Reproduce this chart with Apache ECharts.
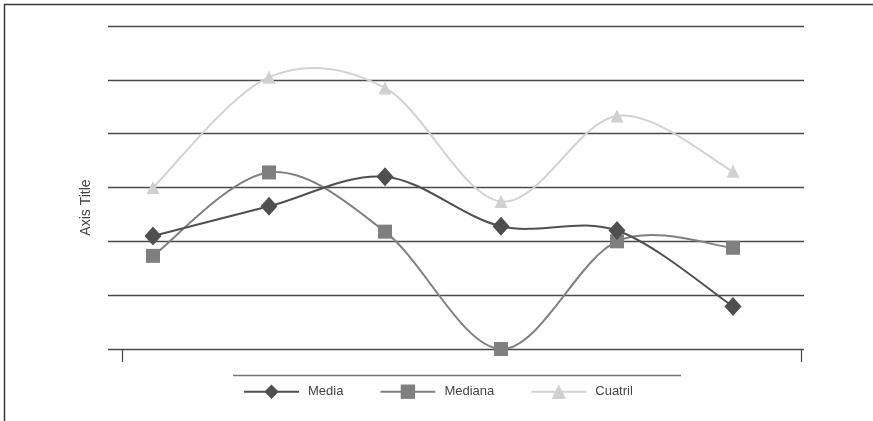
<!DOCTYPE html>
<html>
<head>
<meta charset="utf-8">
<script src="https://cdn.jsdelivr.net/npm/echarts@6/dist/echarts.min.js"></script>
<style>
html,body{margin:0;padding:0;background:#fff;}
#chart{width:873px;height:421px;}
</style>
</head>
<body>
<div id="chart"></div>
<script>
const categories = ['1', '2', '3', '4', '5', '6'];
const media = [2.1, 2.65, 3.2, 2.28, 2.2, 0.79];
const mediana = [1.73, 3.28, 2.18, 0, 2.0, 1.88];
const cuatril = [3.0, 5.05, 4.85, 2.74, 4.33, 3.3];
const seriesNames = ['Media', 'Mediana', 'Cuatril'];
const yMin = 0, yMax = 6, yStep = 1;

const colors = {media: '#4f4f4f', mediana: '#808080', cuatril: '#d2d2d2'};
const chart = echarts.init(document.getElementById('chart'), null, {renderer: 'canvas'});
const font = "'Liberation Sans', Arial, sans-serif";

// Excel-like smoothed curve (cardinal/Catmull-Rom bezier) through the library's coordinate mapping
function curveSeries(name, values, color, z) {
  return {
    name: name + ' curve', type: 'custom', coordinateSystem: 'cartesian2d',
    xAxisIndex: 1, yAxisIndex: 1, z: z, silent: true,
    data: values.map((v, i) => [i, v]),
    renderItem: function (params, api) {
      const i = params.dataIndex;
      const n = values.length;
      if (i >= n - 1) return null;
      const pt = j => api.coord([Math.max(0, Math.min(n - 1, j)), values[Math.max(0, Math.min(n - 1, j))]]);
      const p0 = pt(i - 1), p1 = pt(i), p2 = pt(i + 1), p3 = pt(i + 2);
      const t = 1 / 6;
      return {
        type: 'bezierCurve',
        shape: {
          x1: p1[0], y1: p1[1], x2: p2[0], y2: p2[1],
          cpx1: p1[0] + (p2[0] - p0[0]) * t, cpy1: p1[1] + (p2[1] - p0[1]) * t,
          cpx2: p2[0] - (p3[0] - p1[0]) * t, cpy2: p2[1] - (p3[1] - p1[1]) * t
        },
        style: {stroke: color, lineWidth: 2, fill: null}
      };
    }
  };
}

const option = {
  animation: false,
  backgroundColor: '#ffffff',
  grid: [
    {left: 108, right: 69, top: 26, bottom: 72},   // gridlines
    {left: 95, right: 82, top: 26, bottom: 72},    // series
    {left: 122, right: 72, top: 66, bottom: 72}    // ticks + axis title
  ],
  xAxis: [
    {gridIndex: 0, type: 'category', data: [''], show: false},
    {gridIndex: 1, type: 'category', data: categories, boundaryGap: true, show: false},
    {gridIndex: 2, type: 'category', data: [''], boundaryGap: true,
      axisLine: {show: false}, axisLabel: {show: false},
      axisTick: {show: true, length: 13, lineStyle: {color: '#444', width: 1.2}}}
  ],
  yAxis: [
    {gridIndex: 0, type: 'value', min: yMin, max: yMax, interval: yStep,
      axisLine: {show: false}, axisTick: {show: false}, axisLabel: {show: false},
      splitLine: {show: true, lineStyle: {color: '#4a4a4a', width: 1.3}}},
    {gridIndex: 1, type: 'value', min: yMin, max: yMax, interval: yStep, show: false, splitLine: {show: false}},
    {gridIndex: 2, type: 'value', min: yMin, max: yMax, interval: yStep,
      axisLine: {show: false}, axisTick: {show: false}, axisLabel: {show: false}, splitLine: {show: false},
      name: 'Axis Title', nameLocation: 'middle', nameRotate: 90, nameGap: 29,
      nameTextStyle: {fontFamily: font, fontSize: 14, color: '#444'}}
  ],
  legend: {
    data: [
      {name: seriesNames[0], lineStyle: {color: colors.media, width: 2, opacity: 1}},
      {name: seriesNames[1], lineStyle: {color: colors.mediana, width: 2, opacity: 1}},
      {name: seriesNames[2], lineStyle: {color: colors.cuatril, width: 2, opacity: 1}}
    ],
    left: 238, top: 379.5,
    itemWidth: 55, itemHeight: 18, itemGap: 36,
    textStyle: {fontFamily: font, fontSize: 13, color: '#444', padding: [0, 0, 0, 4]}
  },
  series: [
    {name: seriesNames[0], type: 'line', xAxisIndex: 1, yAxisIndex: 1, data: media,
      symbol: 'diamond', symbolSize: [17, 19], z: 7,
      lineStyle: {color: colors.media, width: 2, opacity: 0}, itemStyle: {color: colors.media}},
    {name: seriesNames[1], type: 'line', xAxisIndex: 1, yAxisIndex: 1, data: mediana,
      symbol: 'rect', symbolSize: 14, z: 6,
      lineStyle: {color: colors.mediana, width: 2, opacity: 0}, itemStyle: {color: '#7f7f7f'}},
    {name: seriesNames[2], type: 'line', xAxisIndex: 1, yAxisIndex: 1, data: cuatril,
      symbol: 'triangle', symbolSize: 13, z: 5,
      lineStyle: {color: colors.cuatril, width: 2, opacity: 0}, itemStyle: {color: '#d0d0d0'}},
    curveSeries(seriesNames[0], media, colors.media, 4),
    curveSeries(seriesNames[1], mediana, colors.mediana, 3),
    curveSeries(seriesNames[2], cuatril, colors.cuatril, 2)
  ],
  graphic: [
    {type: 'rect', shape: {x: 4.5, y: 4.5, width: 1000, height: 1000}, silent: true,
      style: {fill: 'none', stroke: '#3a3a3a', lineWidth: 1.5}},
    {type: 'line', shape: {x1: 233, y1: 375.5, x2: 681, y2: 375.5}, silent: true,
      style: {stroke: '#777', lineWidth: 1.5}}
  ]
};
chart.setOption(option);
</script>
</body>
</html>
